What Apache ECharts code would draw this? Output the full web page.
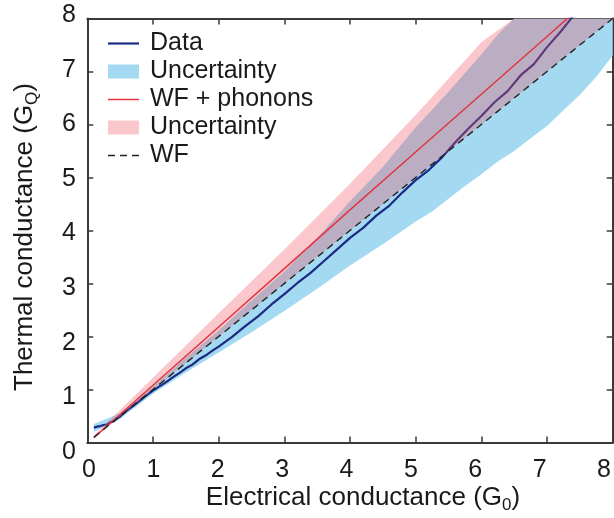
<!DOCTYPE html>
<html>
<head>
<meta charset="utf-8">
<script src="https://cdn.jsdelivr.net/npm/echarts@6/dist/echarts.min.js"></script>
<style>
html,body{margin:0;padding:0;background:#fff;}
#chart{width:614px;height:518px;}
</style>
</head>
<body>
<div id="chart"></div>
<script>
// ---- data ----
const xTicks = [0,1,2,3,4,5,6,7,8];
const yTicks = [0,1,2,3,4,5,6,7,8];

// measured data: [G0, GQ]
const dataLine = [[0.1,0.28],[0.15,0.3],[0.2,0.31],[0.25,0.33],[0.3,0.34],[0.35,0.38],[0.4,0.4],[0.45,0.45],[0.5,0.49],[0.6,0.6],[0.7,0.69],[0.8,0.79],[0.9,0.89],[1.0,0.98],[1.1,1.06],[1.2,1.14],[1.3,1.23],[1.4,1.31],[1.5,1.4],[1.6,1.47],[1.7,1.57],[1.8,1.64],[1.9,1.73],[2.0,1.81],[2.2,1.99],[2.4,2.19],[2.6,2.38],[2.8,2.6],[3.0,2.8],[3.2,3.01],[3.4,3.2],[3.6,3.42],[3.8,3.64],[4.0,3.86],[4.2,4.05],[4.4,4.28],[4.6,4.47],[4.8,4.72],[5.0,4.95],[5.2,5.14],[5.4,5.38],[5.6,5.66],[5.8,5.92],[6.0,6.16],[6.2,6.42],[6.4,6.63],[6.6,6.93],[6.8,7.14],[7.0,7.46],[7.2,7.74],[7.4,8.05]];

// data uncertainty band: x, lower, upper
const bandDataX  = [0.1, 0.5, 1.0, 1.5, 2.0, 2.5, 3.0, 3.5, 4.0, 4.5, 5.0, 5.25, 5.5, 5.75, 6.0, 6.25, 6.5, 6.75, 7.0, 7.25, 7.5, 7.75, 8.0];
const bandDataLo = [0.2, 0.45, 0.92, 1.32, 1.7, 2.08, 2.48, 2.9, 3.34, 3.74, 4.17, 4.36, 4.6, 4.84, 5.06, 5.3, 5.5, 5.74, 5.97, 6.27, 6.56, 6.9, 7.3];
const bandDataHi = [0.35, 0.55, 1.05, 1.6, 2.12, 2.68, 3.22, 3.86, 4.55, 5.2, 5.95, 6.28, 6.62, 6.97, 7.32, 7.7, 8.05, 8.3, 8.6, 8.85, 9.1, 9.35, 9.6];

// WF + phonons model
const wfPhonons = [[0.1,0.09],[1,1.08],[2,2.18],[3,3.28],[4,4.39],[5,5.48],[6,6.57],[7,7.66],[7.4,8.1]];

// model uncertainty band: x, lower, upper
const bandModelX  = [0.1, 1.0, 2.0, 3.0, 4.0, 5.0, 6.0, 6.5, 8.0];
const bandModelLo = [0.08, 1.0, 2.0, 3.0, 4.0, 5.0, 6.0, 6.5, 8.0];
const bandModelHi = [0.13, 1.22, 2.44, 3.64, 4.88, 6.18, 7.55, 8.2, 10.2];

// Wiedemann-Franz law
const wfLine = [[0.1,0.1],[8,8]];

// ---- chart ----
const chart = echarts.init(document.getElementById('chart'), null, {renderer:'canvas'});
const FONT = 'Liberation Sans, Arial, sans-serif';
const AX = '#3a3a3a';
const TXT = '#1a1a1a';

function bandRender(xs, lo, hi, fill){
  return function(params, api){
    if (params.dataIndex !== 0) return null;
    const pts = [];
    for (let i = 0; i < xs.length; i++) pts.push(api.coord([xs[i], hi[i]]));
    for (let i = xs.length - 1; i >= 0; i--) pts.push(api.coord([xs[i], lo[i]]));
    const cs = params.coordSys;
    const clipped = echarts.graphic.clipPointsByRect(pts, {x: cs.x, y: cs.y, width: cs.width, height: cs.height});
    return {type:'polygon', shape:{points: clipped}, style:{fill: fill}};
  };
}
function rows(xs, lo, hi){ return xs.map((x,i)=>[x, lo[i], hi[i]]); }

const BLUE = '#A3D9F1';
const PINK = 'rgba(240,88,100,0.33)';
const NAVY = '#1B2A84';
const RED = '#E2343E';

const tickAxis = (pos) => ({
  type:'value', gridIndex:0, min:0, max:8, interval:1, position:pos,
  axisLine:{show:true, onZero:false, lineStyle:{color:AX, width:2}},
  axisTick:{show:true, inside:true, length:6, lineStyle:{color:AX, width:1.5}},
  axisLabel:{show:false}, splitLine:{show:false}
});
const labelAxis = (pos, ticks, margin) => ({
  type:'value', gridIndex:1, min:0, max:8, interval:1, position:pos,
  axisLine:{show:false}, axisTick:{show:false}, splitLine:{show:false},
  axisLabel:{show:true, margin:margin, fontSize:25, fontFamily:FONT, color:TXT,
    formatter: v => (ticks.indexOf(v) >= 0 ? String(v) : '')}
});

const option = {
  animation:false,
  backgroundColor:'#fff',
  grid:[
    {left:87.3, right:1.3, top:18.5, bottom:75.5, containLabel:false},
    {left:89, right:6, top:15, bottom:66, containLabel:false}
  ],
  xAxis:[tickAxis('bottom'), tickAxis('top'), labelAxis('bottom', xTicks, 6)],
  yAxis:[tickAxis('left'), tickAxis('right'), labelAxis('left', yTicks, 13)],
  legend:{
    left:103, top:26, orient:'vertical', itemWidth:31, itemHeight:14, itemGap:3,
    symbolKeepAspect:true,
    textStyle:{fontSize:25, fontFamily:FONT, color:TXT, lineHeight:25, padding:[0,0,0,6]},
    formatter: n => n.indexOf('Uncertainty') === 0 ? 'Uncertainty' : n,
    data:[
      {name:'Data', icon:'path://M0,0H31V2.2H0Z'},
      {name:'Uncertainty (data)', icon:'rect'},
      {name:'WF + phonons', icon:'path://M0,0H31V1.5H0Z'},
      {name:'Uncertainty (model)', icon:'rect'},
      {name:'WF', icon:'path://M0,0H7V1.4H0Z M12,0H19V1.4H12Z M24,0H31V1.4H24Z'}
    ]
  },
  series:[
    {name:'Uncertainty (data)', type:'custom', xAxisIndex:0, yAxisIndex:0, z:1, clip:true,
      itemStyle:{color:BLUE},
      renderItem: bandRender(bandDataX, bandDataLo, bandDataHi, BLUE),
      data: rows(bandDataX, bandDataLo, bandDataHi), encode:{x:0, y:[1,2]}},
    {name:'Data', type:'line', xAxisIndex:0, yAxisIndex:0, z:2, symbol:'none', showSymbol:false,
      lineStyle:{color:NAVY, width:2.2}, itemStyle:{color:NAVY}, data:dataLine},
    {name:'Uncertainty (model)', type:'custom', xAxisIndex:0, yAxisIndex:0, z:3, clip:true,
      itemStyle:{color:PINK},
      renderItem: bandRender(bandModelX, bandModelLo, bandModelHi, PINK),
      data: rows(bandModelX, bandModelLo, bandModelHi), encode:{x:0, y:[1,2]}},
    {name:'WF + phonons', type:'line', xAxisIndex:0, yAxisIndex:0, z:4, symbol:'none', showSymbol:false,
      lineStyle:{color:RED, width:1.5}, itemStyle:{color:RED}, data:wfPhonons},
    {name:'WF', type:'line', xAxisIndex:0, yAxisIndex:0, z:5, symbol:'none', showSymbol:false,
      lineStyle:{color:'#222', width:1.4, type:[7,5]}, itemStyle:{color:'#222'}, data:wfLine}
  ],
  graphic:[
    {type:'text', x:25, y:237, rotation:Math.PI/2, z:10,
      style:{text:'{n|Thermal conductance (G}{s|Q}{n|)}', align:'center', verticalAlign:'middle',
        rich:{n:{fontSize:26, fontFamily:FONT, fill:TXT, lineHeight:32, verticalAlign:'middle'},
              s:{fontSize:17, fontFamily:FONT, fill:TXT, lineHeight:17, verticalAlign:'bottom'}}}},
    {type:'text', x:363, y:498, z:10,
      style:{text:'{n|Electrical conductance (G}{s|0}{n|)}', align:'center', verticalAlign:'middle',
        rich:{n:{fontSize:26, fontFamily:FONT, fill:TXT, lineHeight:32, verticalAlign:'middle'},
              s:{fontSize:17, fontFamily:FONT, fill:TXT, lineHeight:17, verticalAlign:'bottom'}}}}
  ]
};
chart.setOption(option);
</script>
</body>
</html>
